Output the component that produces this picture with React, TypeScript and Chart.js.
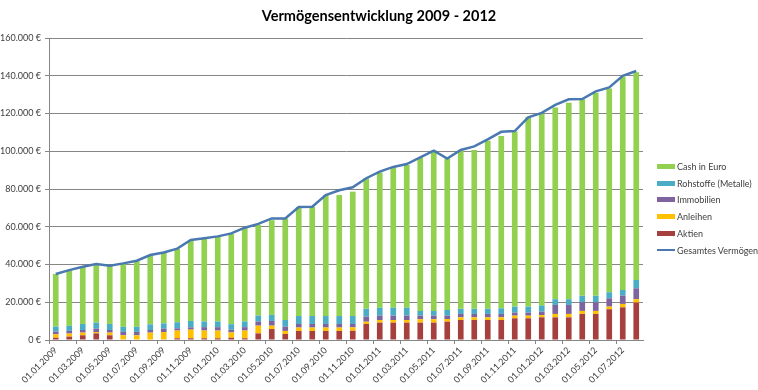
import React, { useEffect, useRef } from 'react';
import { Chart, registerables } from 'chart.js';

Chart.register(...registerables);

const categories = [
  '01.01.2009', '01.02.2009', '01.03.2009', '01.04.2009', '01.05.2009', '01.06.2009',
  '01.07.2009', '01.08.2009', '01.09.2009', '01.10.2009', '01.11.2009', '01.12.2009',
  '01.01.2010', '01.02.2010', '01.03.2010', '01.04.2010', '01.05.2010', '01.06.2010',
  '01.07.2010', '01.08.2010', '01.09.2010', '01.10.2010', '01.11.2010', '01.12.2010',
  '01.01.2011', '01.02.2011', '01.03.2011', '01.04.2011', '01.05.2011', '01.06.2011',
  '01.07.2011', '01.08.2011', '01.09.2011', '01.10.2011', '01.11.2011', '01.12.2011',
  '01.01.2012', '01.02.2012', '01.03.2012', '01.04.2012', '01.05.2012', '01.06.2012',
  '01.07.2012', '01.08.2012',
];

const aktien = [
  1200, 1800, 2500, 3500, 2500, 0, 0, 0, 300, 900,
  900, 900, 900, 1200, 900, 3500, 5800, 3200, 4800, 4800,
  4800, 4800, 4900, 8500, 9200, 9200, 9200, 9200, 9200, 9700,
  10600, 10600, 10600, 10600, 11500, 11500, 12000, 12000, 12000, 13800,
  13800, 16300, 17300, 19800,
];

const anleihen = [
  1800, 1600, 1400, 700, 1400, 2500, 2500, 3900, 3900, 4100,
  4600, 4100, 4100, 2800, 4100, 4100, 1800, 1600, 1800, 1800,
  1800, 1800, 1800, 1200, 1400, 1400, 1400, 1800, 1800, 1400,
  1400, 1400, 1400, 1400, 1400, 1400, 1200, 1800, 1800, 1600,
  1600, 1400, 1800, 1800,
];

const immobilien = [
  1400, 1400, 1400, 1800, 1400, 1800, 1800, 1400, 1800, 1200,
  1200, 1800, 1800, 1400, 1800, 2100, 2500, 2300, 1900, 1900,
  1900, 1900, 1800, 2700, 2300, 2300, 2300, 1900, 1900, 1800,
  1800, 1800, 1800, 1800, 1600, 1600, 1800, 4800, 4800, 4600,
  4600, 4400, 4400, 5800,
];

const rohstoffe = [
  2700, 2700, 3200, 3200, 3200, 2700, 2700, 3000, 2800, 3200,
  3400, 3000, 3000, 3000, 3000, 3200, 3200, 3500, 4200, 4200,
  4200, 4200, 4200, 4100, 4200, 4200, 4200, 2500, 2500, 3000,
  2700, 2700, 2700, 3000, 3200, 3200, 3200, 3000, 3000, 3400,
  3400, 3200, 3000, 4400,
];

const cash = [
  27900, 29300, 30100, 30800, 30700, 33500, 34800, 36500, 37400, 38800,
  42700, 43900, 44900, 47900, 49400, 48100, 50200, 53800, 57800, 57900,
  64100, 64100, 65900, 69200, 71600, 74300, 75600, 81200, 85100, 80200,
  83800, 84200, 89100, 91300, 92700, 100600, 101500, 101600, 104100, 104100,
  107600, 107900, 113000, 110000,
];

const gesamt = [
  35000, 37000, 38800, 40200, 39400, 40600, 42000, 45000, 46400, 48400,
  53000, 53900, 54900, 56500, 59500, 61500, 64400, 64400, 70500, 70600,
  76800, 79300, 80900, 85700, 89200, 91700, 93200, 96800, 100300, 96100,
  100700, 102600, 106300, 110300, 110700, 118000, 120300, 124600, 127500, 127700,
  131700, 133800, 140000, 142500,
];

const yTicksMax = 160000;
const yTicksStep = 20000;

const COLORS = {
  cash: '#92D050',
  rohstoffe: '#4BACC6',
  immobilien: '#7E649E',
  anleihen: '#FFC000',
  aktien: '#A5403E',
  gesamt: '#4A78B0',
};

const FONT = "Lato, 'Open Sans', sans-serif";

const legendItems = [
  { label: 'Cash in Euro', color: COLORS.cash, line: false },
  { label: 'Rohstoffe (Metalle)', color: COLORS.rohstoffe, line: false },
  { label: 'Immobilien', color: COLORS.immobilien, line: false },
  { label: 'Anleihen', color: COLORS.anleihen, line: false },
  { label: 'Aktien', color: COLORS.aktien, line: false },
  { label: 'Gesamtes Vermögen', color: COLORS.gesamt, line: true },
];

function fmtEuro(v: number): string {
  return String(v).replace(/\B(?=(\d{3})+(?!\d))/g, '.') + ' €';
}

export default function App() {
  const canvasRef = useRef<HTMLCanvasElement | null>(null);

  useEffect(() => {
    const canvas = canvasRef.current;
    if (!canvas) return;
    const barCommon = {
      type: 'bar' as const,
      stack: 'assets',
      barPercentage: 0.42,
      categoryPercentage: 1,
      borderWidth: 0,
      order: 1,
    };
    const chart = new Chart(canvas, {
      type: 'bar',
      data: {
        labels: categories,
        datasets: [
          { ...barCommon, label: 'Aktien', data: aktien, backgroundColor: COLORS.aktien },
          { ...barCommon, label: 'Anleihen', data: anleihen, backgroundColor: COLORS.anleihen },
          { ...barCommon, label: 'Immobilien', data: immobilien, backgroundColor: COLORS.immobilien },
          { ...barCommon, label: 'Rohstoffe (Metalle)', data: rohstoffe, backgroundColor: COLORS.rohstoffe },
          { ...barCommon, label: 'Cash in Euro', data: cash, backgroundColor: COLORS.cash },
          {
            type: 'line' as const,
            label: 'Gesamtes Vermögen',
            data: gesamt,
            stack: 'total',
            borderColor: COLORS.gesamt,
            backgroundColor: COLORS.gesamt,
            borderWidth: 2.5,
            pointRadius: 0,
            tension: 0,
            fill: false,
            order: 0,
          } as any,
        ],
      },
      options: {
        responsive: false,
        animation: false,
        devicePixelRatio: 1,
        layout: { padding: { top: 38, right: 115, left: 0, bottom: 0 } },
        plugins: {
          legend: { display: false },
          title: { display: false },
          tooltip: { enabled: false },
        },
        scales: {
          x: {
            stacked: true,
            afterFit: (scale: any) => { scale.height = 50; },
            grid: {
              display: true,
              drawOnChartArea: false,
              drawTicks: true,
              tickLength: 4,
              color: (ctx: any) => (ctx.index % 2 === 0 ? '#868686' : 'rgba(0,0,0,0)'),
            },
            border: { display: true, color: '#868686' },
            ticks: {
              autoSkip: false,
              minRotation: 45,
              maxRotation: 45,
              padding: 1,
              color: '#404040',
              font: { family: FONT, size: 9 },
              callback: (_v: any, i: number) => (i % 2 === 0 ? categories[i] : ''),
            },
          },
          y: {
            stacked: true,
            min: 0,
            max: yTicksMax,
            afterFit: (scale: any) => { scale.width = 49; },
            grid: {
              color: '#868686',
              lineWidth: 1,
              tickLength: 4,
            },
            border: { display: true, color: '#868686' },
            ticks: {
              stepSize: yTicksStep,
              padding: 4,
              color: '#404040',
              font: { family: FONT, size: 9 },
              callback: (v: any) => fmtEuro(Number(v)),
            },
          },
        },
      },
    });
    return () => chart.destroy();
  }, []);

  return (
    <div style={{ position: 'absolute', left: 0, top: 0, width: 758, height: 390, background: '#fff', fontFamily: FONT }}>
      <div
        style={{
          position: 'absolute', left: 0, top: 7, width: 758, textAlign: 'center',
          fontWeight: 700, fontSize: 14.5, color: '#000', lineHeight: '18px',
        }}
      >
        Vermögensentwicklung 2009 - 2012
      </div>
      <canvas ref={canvasRef} width={758} height={390} style={{ display: 'block', width: 758, height: 390 }} />
      <div style={{ position: 'absolute', left: 657, top: 158 }}>
        {legendItems.map((it) => (
          <div key={it.label} style={{ display: 'flex', alignItems: 'center', height: 16.8 }}>
            <span
              style={{
                display: 'inline-block', width: 18, height: it.line ? 2 : 5,
                background: it.color, marginRight: 2,
              }}
            />
            <span style={{ fontSize: 9, color: '#404040', whiteSpace: 'nowrap' }}>{it.label}</span>
          </div>
        ))}
      </div>
    </div>
  );
}
